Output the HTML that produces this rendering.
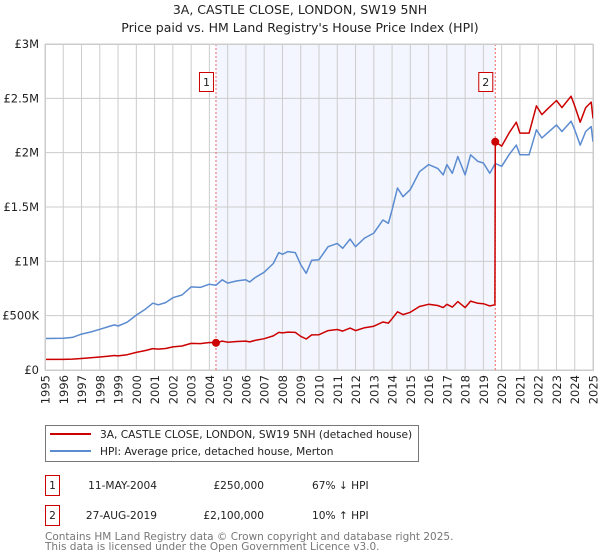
<!DOCTYPE html>
<html><head><meta charset="utf-8"><style>
body{margin:0;background:#fff;width:600px;height:560px;overflow:hidden;font-family:"DejaVu Sans","Liberation Sans",sans-serif}
svg{display:block}
</style></head><body>
<svg id="chart" width="600" height="560" xmlns="http://www.w3.org/2000/svg" font-family="DejaVu Sans, Liberation Sans, sans-serif">
<text x="300" y="14" text-anchor="middle" font-size="12.5" fill="#222">3A, CASTLE CLOSE, LONDON, SW19 5NH</text>
<text x="300" y="32" text-anchor="middle" font-size="12.5" fill="#222">Price paid vs. HM Land Registry's House Price Index (HPI)</text>
<g id="plot"></g>
<g>
<rect x="45.5" y="425.5" width="373" height="36" fill="#fff" stroke="#777"/>
<line x1="50" y1="434" x2="91" y2="434" stroke="#cc0000" stroke-width="2"/>
<text x="100" y="438" font-size="10.6" fill="#222">3A, CASTLE CLOSE, LONDON, SW19 5NH (detached house)</text>
<line x1="50" y1="451" x2="91" y2="451" stroke="#5b8bd0" stroke-width="2"/>
<text x="100" y="455" font-size="10.6" fill="#222">HPI: Average price, detached house, Merton</text>
</g>
<g font-size="10.6" fill="#222">
<rect x="45.5" y="475.5" width="14" height="20" fill="#fff" stroke="#cc0000"/>
<text x="52.5" y="489" text-anchor="middle">1</text>
<text x="157" y="489" text-anchor="end">11-MAY-2004</text>
<text x="264" y="489" text-anchor="end">£250,000</text>
<text x="312" y="489">67% ↓ HPI</text>
<rect x="45.5" y="505.5" width="14" height="20" fill="#fff" stroke="#cc0000"/>
<text x="52.5" y="519" text-anchor="middle">2</text>
<text x="157" y="519" text-anchor="end">27-AUG-2019</text>
<text x="264" y="519" text-anchor="end">£2,100,000</text>
<text x="312" y="519">10% ↑ HPI</text>
</g>
<text x="45" y="540" font-size="10.5" fill="#777">Contains HM Land Registry data © Crown copyright and database right 2025.</text>
<text x="45" y="550" font-size="10.5" fill="#777">This data is licensed under the Open Government Licence v3.0.</text>
</svg>
<script>
const hpiDates=[1995.0,1996.0,1996.5,1997.0,1997.5,1998.0,1998.5,1998.8,1999.0,1999.5,2000.0,2000.5,2000.9,2001.2,2001.6,2002.0,2002.5,2003.0,2003.5,2004.0,2004.36,2004.7,2005.0,2005.5,2006.0,2006.2,2006.5,2007.0,2007.5,2007.8,2008.0,2008.3,2008.7,2009.0,2009.3,2009.6,2010.0,2010.5,2011.0,2011.3,2011.7,2012.0,2012.5,2013.0,2013.5,2013.8,2014.0,2014.3,2014.6,2015.0,2015.5,2016.0,2016.5,2016.8,2017.0,2017.3,2017.6,2018.0,2018.3,2018.7,2019.0,2019.35,2019.65,2020.0,2020.4,2020.8,2021.0,2021.5,2021.9,2022.2,2022.5,2023.0,2023.3,2023.8,2024.0,2024.3,2024.6,2024.9,2025.0];
const hpiValues=[290,292,300,330,350,375,400,415,405,440,505,560,615,600,620,665,690,765,760,790,780,830,800,820,830,810,850,900,980,1080,1065,1090,1080,970,890,1010,1015,1135,1165,1120,1205,1135,1215,1260,1380,1350,1475,1675,1595,1660,1825,1890,1855,1795,1890,1810,1965,1795,1980,1920,1905,1810,1900,1875,1980,2070,1980,1980,2210,2135,2180,2255,2195,2290,2210,2070,2195,2240,2100];
const redDates=[1995.0,1996.0,1996.5,1997.0,1997.5,1998.0,1998.5,1998.8,1999.0,1999.5,2000.0,2000.5,2000.9,2001.2,2001.6,2002.0,2002.5,2003.0,2003.5,2004.0,2004.36,2004.7,2005.0,2005.5,2006.0,2006.2,2006.5,2007.0,2007.5,2007.8,2008.0,2008.3,2008.7,2009.0,2009.3,2009.6,2010.0,2010.5,2011.0,2011.3,2011.7,2012.0,2012.5,2013.0,2013.5,2013.8,2014.0,2014.3,2014.6,2015.0,2015.5,2016.0,2016.5,2016.8,2017.0,2017.3,2017.6,2018.0,2018.3,2018.7,2019.0,2019.35,2019.63,2019.65,2020.0,2020.4,2020.8,2021.0,2021.5,2021.9,2022.2,2022.5,2023.0,2023.3,2023.8,2024.0,2024.3,2024.6,2024.9,2025.0];
const redValues=[98,98,100,106,112,120,128,133,130,141,162,179,197,192,198,213,221,245,243,253,250,266,256,262,266,259,272,288,314,346,341,349,346,310,285,323,325,363,373,358,386,363,389,403,442,432,472,536,510,531,584,605,594,574,605,579,629,574,634,614,610,590,600,2100,2060,2180,2280,2180,2180,2430,2350,2400,2480,2415,2520,2430,2280,2415,2465,2315];
const saleDates=[2004.36,2019.65];
const saleValues=[250,2100];
const saleLabels=["1","2"];
const yTicks=[0,500,1000,1500,2000,2500,3000];
const yTickLabels=["£0","£500K","£1M","£1.5M","£2M","£2.5M","£3M"];
const xYears=[1995,1996,1997,1998,1999,2000,2001,2002,2003,2004,2005,2006,2007,2008,2009,2010,2011,2012,2013,2014,2015,2016,2017,2018,2019,2020,2021,2022,2023,2024,2025];

const L=45,R=593,T=44,B=370;
const x=t=>L+(t-1995)/30*(R-L);
const y=v=>B-v/3000*(B-T);
const NS="http://www.w3.org/2000/svg";
const g=document.getElementById('plot');
function mk(tag,attrs){const e=document.createElementNS(NS,tag);for(const k in attrs)e.setAttribute(k,attrs[k]);g.appendChild(e);return e;}

let e=mk('rect',{x:x(saleDates[0]),y:T,width:x(saleDates[1])-x(saleDates[0]),height:B-T,fill:'#f3f6fe'});


xYears.forEach(yr=>{
  const l=mk('line',{x1:x(yr),x2:x(yr),y1:T,y2:B,stroke:'#cccccc','stroke-width':1});
  
  
  const t=mk('text',{transform:`translate(${x(yr)+4.5},375) rotate(-90)`,'text-anchor':'end','font-size':11.5,fill:'#222'});
  t.textContent=yr;
  
  
});
yTicks.forEach((v,i)=>{
  const l=mk('line',{x1:L,x2:R,y1:y(v),y2:y(v),stroke:'#cccccc','stroke-width':1});
  
  
  const t=mk('text',{x:39,y:y(v)+4,'text-anchor':'end','font-size':11.5,fill:'#222'});
  t.textContent=yTickLabels[i];
  
  
});
saleDates.forEach((d,i)=>{
  const l=mk('line',{x1:x(d),x2:x(d),y1:T,y2:B,stroke:'#ee6666','stroke-width':1,'stroke-dasharray':'2,2'});
  
  
});
const path=(ds,vs)=>ds.map((d,i)=>(i?'L':'M')+x(d).toFixed(1)+','+y(vs[i]).toFixed(1)).join('');
e=mk('path',{d:path(hpiDates,hpiValues),fill:'none',stroke:'#5b8bd0','stroke-width':1.5,'stroke-linejoin':'round'});


e=mk('path',{d:path(redDates,redValues),fill:'none',stroke:'#cc0000','stroke-width':1.5,'stroke-linejoin':'round'});


saleDates.forEach((d,i)=>{
  const c=mk('circle',{cx:x(d),cy:y(saleValues[i]),r:4,fill:'#cc0000'});
  
  
  const b=mk('rect',{x:x(d)-16.5,y:72.5,width:14,height:19,fill:'#fff',stroke:'#cc0000'});
  
  
  const t=mk('text',{x:x(d)-9.5,y:86,'text-anchor':'middle','font-size':11,fill:'#222'});
  t.textContent=saleLabels[i];
  
  
});
e=mk('rect',{x:L+.5,y:T+.5,width:R-L,height:B-T,fill:'none',stroke:'#cccccc'});


</script>
</body></html>
